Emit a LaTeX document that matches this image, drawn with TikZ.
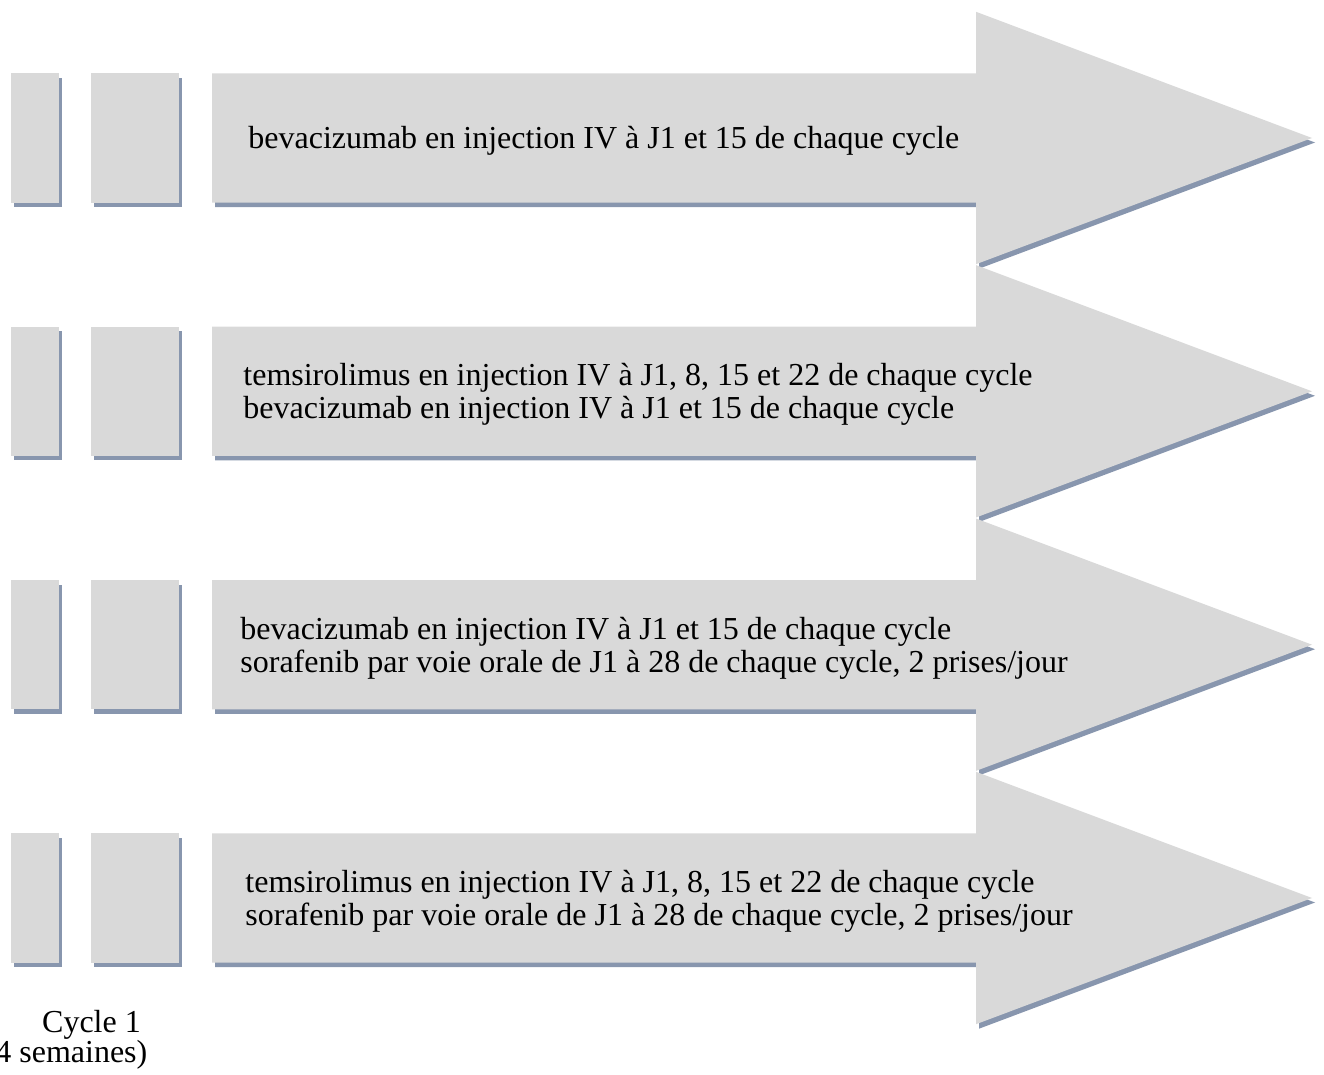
\documentclass[tikz,border=0pt]{standalone}
\usepackage{fontspec}
\setmainfont{Liberation Serif}
\usetikzlibrary{shadows}
\definecolor{boxgrey}{RGB}{217,217,217}
\definecolor{shadowblue}{RGB}{136,150,174}
\tikzset{
  shadedbox/.style={fill=boxgrey, drop shadow={shadow xshift=1.5pt, shadow yshift=-2.25pt, fill=shadowblue, opacity=1}},
  rowtext/.style={anchor=west, align=left, inner sep=0pt, font=\fontsize{16}{16.5}\selectfont},
  cycletext/.style={anchor=base, inner sep=0pt, font=\fontsize{16}{15}\selectfont}
}
\begin{document}
\begin{tikzpicture}[x=0.5pt, y=-0.5pt]
  \useasboundingbox (0,0) rectangle (1324,1075);
  \foreach \t/\tx/\lbl [count=\i] in {
      73.3/248/{bevacizumab en injection IV à J1 et 15 de chaque cycle},
      326.6/243/{temsirolimus en injection IV à J1, 8, 15 et 22 de chaque cycle\\bevacizumab en injection IV à J1 et 15 de chaque cycle},
      580/240/{bevacizumab en injection IV à J1 et 15 de chaque cycle\\sorafenib par voie orale de J1 à 28 de chaque cycle, 2 prises/jour},
      833.3/245/{temsirolimus en injection IV à J1, 8, 15 et 22 de chaque cycle\\sorafenib par voie orale de J1 à 28 de chaque cycle, 2 prises/jour}} {
    \pgfmathsetmacro{\b}{\t+129.4}
    \fill[shadedbox] (10.7,\t) rectangle (58.7,\b);
    \fill[shadedbox] (91.3,\t) rectangle (179.3,\b);
    \fill[shadedbox] (212,\t) -- (976,\t) -- (976,\t-61.5) -- (1312,\t+64.7)
      -- (976,\b+61.5) -- (976,\b) -- (212,\b) -- cycle;
    \node[rowtext] (txt\i) at (\tx,\t+68) {\lbl};
  }
  \node[cycletext] (cycle) at (91.5,1032) {Cycle 1};
  \node[cycletext] (weeks) at (66,1062) {(4 semaines)};
\end{tikzpicture}
\end{document}
